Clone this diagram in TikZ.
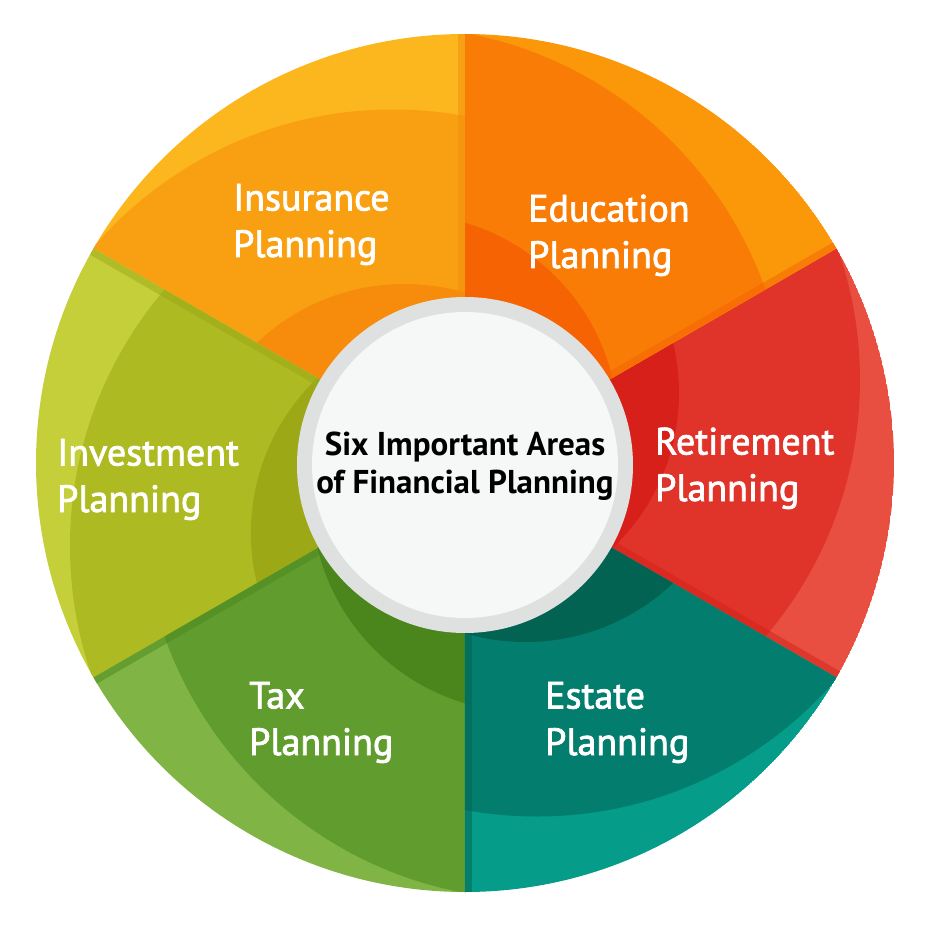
\documentclass[tikz,border=0pt]{standalone}
\usepackage{fontspec}
\setmainfont{PT Sans}
\newfontfamily\arealabelfont[FakeBold=2]{PT Sans}

% sector colours: light (outer), mid, dark (inner)
\definecolor{insLight}{HTML}{FBB71D}
\definecolor{insMid}{HTML}{F8A011}
\definecolor{insDark}{HTML}{F68B0C}
\definecolor{eduLight}{HTML}{FA980A}
\definecolor{eduMid}{HTML}{F97C06}
\definecolor{eduDark}{HTML}{F66303}
\definecolor{retLight}{HTML}{E84F40}
\definecolor{retMid}{HTML}{E0342A}
\definecolor{retDark}{HTML}{D62019}
\definecolor{estLight}{HTML}{069C8A}
\definecolor{estMid}{HTML}{037D6D}
\definecolor{estDark}{HTML}{036353}
\definecolor{taxLight}{HTML}{80B545}
\definecolor{taxMid}{HTML}{619D2E}
\definecolor{taxDark}{HTML}{4A861C}
\definecolor{invLight}{HTML}{C4CF3A}
\definecolor{invMid}{HTML}{AEBA22}
\definecolor{invDark}{HTML}{9CA815}
\definecolor{ringGray}{HTML}{DFE0E0}
\definecolor{hubFill}{HTML}{F6F7F7}

\begin{document}
\begin{tikzpicture}[x=1pt,y=1pt,
    area/.style={text=white, align=left, anchor=base west, inner sep=0pt,
                 font=\fontsize{38}{46.5}\arealabelfont},
    hubtext/.style={text=black, align=center, anchor=base, inner sep=0pt,
                 font=\fontsize{33}{38}\selectfont\bfseries}]
    \useasboundingbox (-465,-467) rectangle (465,463);

    % Six wedges, each with two off-centre discs for the pinwheel shading
    \foreach \s/\lt/\md/\dk in {-30/retLight/retMid/retDark,
                                30/eduLight/eduMid/eduDark,
                                90/insLight/insMid/insDark,
                                150/invLight/invMid/invDark,
                                210/taxLight/taxMid/taxDark,
                                270/estLight/estMid/estDark}{
        \begin{scope}
            \clip (0,0) -- (\s:429) arc[start angle=\s, end angle=\s+60, radius=429] -- cycle;
            \fill[\lt] (0,0) circle (429);
            \fill[\md] (\s+120:83) circle (395);
            \fill[\dk] (\s+120:70) circle (214);
            % thin fold along the wedge's first edge
            \fill[\dk, opacity=.5, rotate=\s] (0,0) rectangle (440,7);
        \end{scope}
    }

    % Hub
    \fill[ringGray] (0,-2) circle (168);
    \fill[hubFill] (0,-2) circle (153);

    % Labels (anchored on the baseline of the second line)
    \node[hubtext] (title) at (0,-30) {Six Important Areas\\of Financial Planning};
    \node[area] (insurance)  at (-232,206) {Insurance\\Planning};
    \node[area] (education)  at (63,195)   {Education\\Planning};
    \node[area] (retirement) at (190,-38)  {Retirement\\Planning};
    \node[area] (investment) at (-408,-49) {Investment\\Planning};
    \node[area] (tax)        at (-216,-292) {Tax\\Planning};
    \node[area] (estate)     at (80,-292)  {Estate\\Planning};
\end{tikzpicture}
\end{document}
